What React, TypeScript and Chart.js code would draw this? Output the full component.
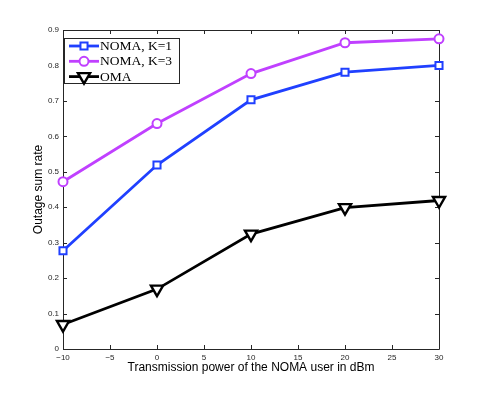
import React, { useEffect, useRef } from "react";
import { Chart, registerables } from "chart.js";

Chart.register(...registerables);

const powerDbm = [-10, 0, 10, 20, 30];
const nomaK1 = [0.277, 0.519, 0.703, 0.781, 0.8];
const nomaK3 = [0.472, 0.636, 0.777, 0.864, 0.875];
const omaRate = [0.069, 0.169, 0.324, 0.399, 0.419];
const seriesLabels = ["NOMA, K=1", "NOMA, K=3", "OMA"];
const xTickValues = [-10, -5, 0, 5, 10, 15, 20, 25, 30];
const yTickValues = [0, 0.1, 0.2, 0.3, 0.4, 0.5, 0.6, 0.7, 0.8, 0.9];
const xTitle = "Transmission power of the NOMA user in dBm";
const yTitle = "Outage sum rate";

const BLUE = "rgb(32,64,255)";
const PURPLE = "rgb(192,64,255)";
const BLACK = "#000000";
const AXIS = "#262626";

const toPoints = (ys: number[]) => powerDbm.map((x, i) => ({ x, y: ys[i] }));

function drawMarker(ctx: CanvasRenderingContext2D, style: string, x: number, y: number, r: number, rot: number) {
  ctx.beginPath();
  if (style === "rect") {
    const s = Math.SQRT1_2 * r;
    ctx.rect(x - s, y - s, 2 * s, 2 * s);
  } else if (style === "circle") {
    ctx.arc(x, y, r, 0, Math.PI * 2);
  } else if (style === "triangle") {
    let rad = (rot * Math.PI) / 180;
    ctx.moveTo(x + Math.sin(rad) * r, y - Math.cos(rad) * r);
    rad += (2 * Math.PI) / 3;
    ctx.lineTo(x + Math.sin(rad) * r, y - Math.cos(rad) * r);
    rad += (2 * Math.PI) / 3;
    ctx.lineTo(x + Math.sin(rad) * r, y - Math.cos(rad) * r);
    ctx.closePath();
  }
  ctx.fill();
  ctx.stroke();
}

const boxPlugin = {
  id: "matlabBox",
  beforeDatasetsDraw(chart: any) {
    const { ctx, chartArea } = chart;
    const { left, right, top, bottom } = chartArea;
    const xs = chart.scales.x;
    const ys = chart.scales.y;
    ctx.save();
    ctx.strokeStyle = AXIS;
    ctx.lineWidth = 1;
    ctx.beginPath();
    ctx.rect(Math.round(left) + 0.5, Math.round(top) + 0.5, Math.round(right - left), Math.round(bottom - top));
    ctx.stroke();
    const L = 4;
    ctx.beginPath();
    xTickValues.forEach((v) => {
      const px = Math.round(xs.getPixelForValue(v)) + 0.5;
      ctx.moveTo(px, bottom);
      ctx.lineTo(px, bottom - L);
      ctx.moveTo(px, top);
      ctx.lineTo(px, top + L);
    });
    yTickValues.forEach((v) => {
      const py = Math.round(ys.getPixelForValue(v)) + 0.5;
      ctx.moveTo(left, py);
      ctx.lineTo(left + L, py);
      ctx.moveTo(right, py);
      ctx.lineTo(right - L, py);
    });
    ctx.stroke();
    ctx.restore();
  },
};

const legendPlugin = {
  id: "innerLegend",
  afterDraw(chart: any) {
    const { ctx } = chart;
    const x0 = 64.5;
    const y0 = 38.5;
    const w = 115;
    const h = 45;
    ctx.save();
    ctx.fillStyle = "#ffffff";
    ctx.strokeStyle = AXIS;
    ctx.lineWidth = 1;
    ctx.fillRect(x0, y0, w, h);
    ctx.strokeRect(x0, y0, w, h);
    ctx.font = '13.5px "Liberation Serif", "Times New Roman", serif';
    ctx.textBaseline = "middle";
    ctx.textAlign = "left";
    chart.data.datasets.forEach((ds: any, i: number) => {
      const cy = 46 + i * 15.3;
      ctx.strokeStyle = ds.borderColor;
      ctx.lineWidth = ds.borderWidth;
      ctx.beginPath();
      ctx.moveTo(69, cy);
      ctx.lineTo(99, cy);
      ctx.stroke();
      ctx.fillStyle = ds.pointBackgroundColor;
      ctx.strokeStyle = ds.borderColor;
      ctx.lineWidth = ds.pointBorderWidth;
      drawMarker(ctx, ds.pointStyle, 84, cy, ds.pointRadius, ds.pointRotation || 0);
      ctx.fillStyle = "#000";
      ctx.fillText(ds.label, 100, cy + 0.5);
    });
    ctx.restore();
  },
};

export default function App() {
  const canvasRef = useRef<HTMLCanvasElement | null>(null);

  useEffect(() => {
    if (!canvasRef.current) return;
    const tickFont = { family: '"Liberation Sans", Arial, Helvetica, sans-serif', size: 8 };
    const titleFont = { family: '"Liberation Sans", Arial, Helvetica, sans-serif', size: 12 };
    const chart = new Chart(canvasRef.current, {
      type: "line",
      data: {
        datasets: [
          {
            label: seriesLabels[0],
            data: toPoints(nomaK1),
            borderColor: BLUE,
            backgroundColor: BLUE,
            borderWidth: 2.8,
            pointStyle: "rect",
            pointRadius: 5,
            pointBorderWidth: 2,
            pointBackgroundColor: "#ffffff",
            pointBorderColor: BLUE,
            tension: 0,
            clip: false,
          },
          {
            label: seriesLabels[1],
            data: toPoints(nomaK3),
            borderColor: PURPLE,
            backgroundColor: PURPLE,
            borderWidth: 2.8,
            pointStyle: "circle",
            pointRadius: 4.5,
            pointBorderWidth: 2,
            pointBackgroundColor: "#ffffff",
            pointBorderColor: PURPLE,
            tension: 0,
            clip: false,
          },
          {
            label: seriesLabels[2],
            data: toPoints(omaRate),
            borderColor: BLACK,
            backgroundColor: BLACK,
            borderWidth: 2.8,
            pointStyle: "triangle",
            pointRotation: 180,
            pointRadius: 7,
            pointBorderWidth: 2.4,
            pointBackgroundColor: "#ffffff",
            pointBorderColor: BLACK,
            tension: 0,
            clip: false,
          },
        ] as any,
      },
      options: {
        responsive: false,
        animation: false,
        devicePixelRatio: 1,
        layout: { padding: { top: 30, right: 46, left: 0, bottom: 0 } },
        plugins: {
          legend: { display: false },
          tooltip: { enabled: false },
          title: { display: false },
        },
        scales: {
          x: {
            type: "linear",
            min: -10,
            max: 30,
            afterBuildTicks: (scale: any) => {
              scale.ticks = xTickValues.map((v) => ({ value: v }));
            },
            afterFit: (scale: any) => {
              scale.height = 44;
            },
            grid: { display: false, drawTicks: false, tickLength: 0 },
            border: { display: false },
            ticks: {
              font: tickFont,
              color: AXIS,
              padding: 4,
              maxRotation: 0,
              autoSkip: false,
              callback: (v: any) => (Number(v) < 0 ? "\u2212" + Math.abs(Number(v)) : String(v)),
            },
            title: {
              display: true,
              text: xTitle,
              font: titleFont,
              color: "#000",
              padding: { top: 0, bottom: 18 },
            },
          },
          y: {
            type: "linear",
            min: 0,
            max: 0.9,
            afterBuildTicks: (scale: any) => {
              scale.ticks = yTickValues.map((v) => ({ value: v }));
            },
            afterFit: (scale: any) => {
              scale.width = 63;
            },
            grid: { display: false, drawTicks: false, tickLength: 0 },
            border: { display: false },
            ticks: {
              font: tickFont,
              color: AXIS,
              padding: 4,
              autoSkip: false,
              callback: (v: any) => (Number(v) === 0 ? "0" : Number(v).toFixed(1)),
            },
            title: {
              display: true,
              text: yTitle,
              font: titleFont,
              color: "#000",
              padding: { top: 31, bottom: 0 },
            },
          },
        },
      } as any,
      plugins: [boxPlugin, legendPlugin],
    });
    return () => chart.destroy();
  }, []);

  return (
    <div style={{ position: "fixed", left: 0, top: 0, width: 485, height: 393, background: "#fff" }}>
      <canvas ref={canvasRef} width={485} height={393} style={{ width: 485, height: 393, display: "block" }} />
    </div>
  );
}
